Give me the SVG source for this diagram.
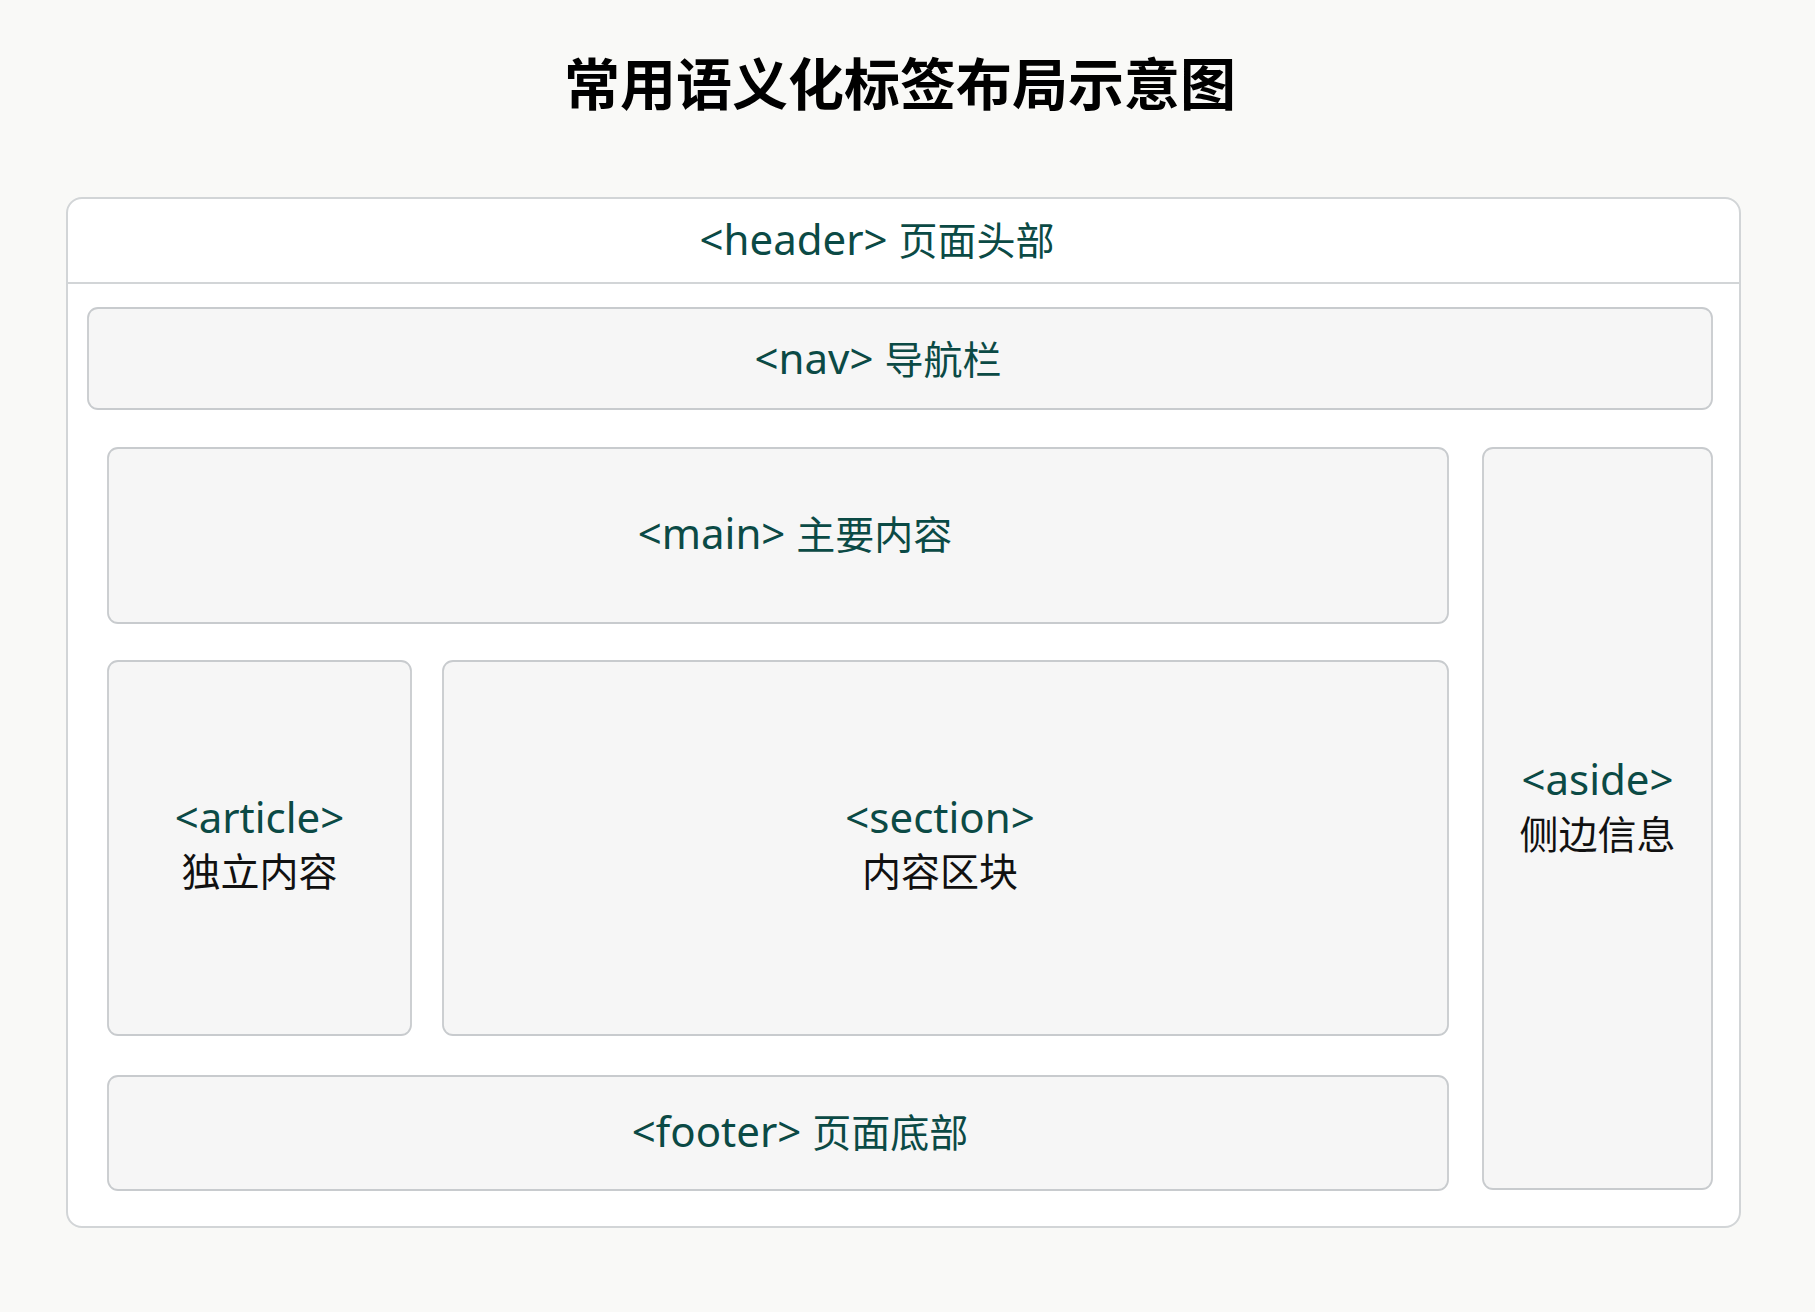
<svg xmlns="http://www.w3.org/2000/svg" width="1815" height="1312" viewBox="0 0 1815 1312">
  <style>
    .bg { fill: #f9f9f7; }
    .outer { fill: #ffffff; stroke: #d2d5d7; stroke-width: 2; }
    .box { fill: #f6f6f6; stroke: #c8cbce; stroke-width: 1.8; }
    .div { stroke: #d2d5d7; stroke-width: 2; }
    .title { font-family: "Noto Sans CJK SC", "Noto Sans", sans-serif; font-weight: 700; font-size: 56px; fill: #000; text-anchor: middle; }
    .lbl { font-family: "Noto Sans", "Noto Sans CJK SC", sans-serif; font-size: 42px; fill: #0b4a45; text-anchor: middle; }
    .cjk { font-family: "Noto Sans CJK SC", sans-serif; font-size: 39px; }
    .blk { fill: #111111; }
  </style>
  <rect class="bg" x="0" y="0" width="1815" height="1312"/>
  <g id="title">
    <text class="title" x="900" y="105">常用语义化标签布局示意图</text>
  </g>
  <g id="page">
    <rect class="outer" x="67" y="198" width="1673" height="1029" rx="15"/>
  </g>
  <g id="header">
    <line class="div" x1="67" y1="283" x2="1740" y2="283"/>
    <text class="lbl" x="877" y="255">&lt;header&gt; <tspan class="cjk">页面头部</tspan></text>
  </g>
  <g id="nav">
    <rect class="box" x="88" y="308" width="1624" height="101" rx="10"/>
    <text class="lbl" x="878" y="374">&lt;nav&gt; <tspan class="cjk">导航栏</tspan></text>
  </g>
  <g id="main">
    <rect class="box" x="108" y="448" width="1340" height="175" rx="10"/>
    <text class="lbl" x="795" y="549">&lt;main&gt; <tspan class="cjk">主要内容</tspan></text>
  </g>
  <g id="article">
    <rect class="box" x="108" y="661" width="303" height="374" rx="10"/>
    <text class="lbl" x="259.5" y="833">&lt;article&gt;</text>
    <text class="lbl cjk blk" x="259.5" y="886">独立内容</text>
  </g>
  <g id="section">
    <rect class="box" x="443" y="661" width="1005" height="374" rx="10"/>
    <text class="lbl" x="940" y="833">&lt;section&gt;</text>
    <text class="lbl cjk blk" x="940" y="886">内容区块</text>
  </g>
  <g id="aside">
    <rect class="box" x="1483" y="448" width="229" height="741" rx="10"/>
    <text class="lbl" x="1597.5" y="795">&lt;aside&gt;</text>
    <text class="lbl cjk blk" x="1597.5" y="849">侧边信息</text>
  </g>
  <g id="footer">
    <rect class="box" x="108" y="1076" width="1340" height="114" rx="10"/>
    <text class="lbl" x="800" y="1147">&lt;footer&gt; <tspan class="cjk">页面底部</tspan></text>
  </g>
  <g id="connectors"></g>
</svg>
